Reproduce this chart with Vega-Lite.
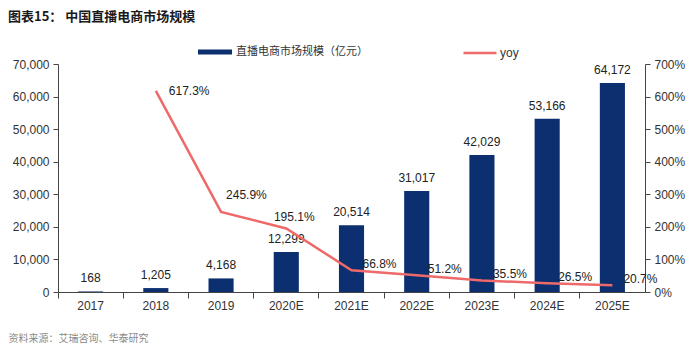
{
  "$schema": "https://vega.github.io/schema/vega-lite/v6.json",
  "autosize": {"type": "none"},
  "width": 587,
  "height": 228,
  "padding": {"left": 58, "right": 47, "top": 64, "bottom": 68},
  "background": "white",
  "title": {
    "text": "图表15：  中国直播电商市场规模",
    "anchor": "start",
    "frame": "group",
    "dx": -50,
    "offset": 11,
    "font": "Noto Sans CJK SC",
    "fontSize": 13,
    "fontWeight": "bold",
    "color": "#1a1a1a"
  },
  "config": {
    "view": {"stroke": null},
    "axis": {
      "labelFont": "Liberation Sans",
      "labelFontSize": 12,
      "labelColor": "#333333",
      "domainColor": "#444444",
      "tickColor": "#444444",
      "grid": false
    },
    "legend": {
      "labelFont": "Noto Sans CJK SC",
      "labelFontSize": 11,
      "labelColor": "#333333"
    }
  },
  "data": {
    "values": [
      {"year": "2017", "scale": 168, "yoy": null},
      {"year": "2018", "scale": 1205, "yoy": 6.173},
      {"year": "2019", "scale": 4168, "yoy": 2.459},
      {"year": "2020E", "scale": 12299, "yoy": 1.951},
      {"year": "2021E", "scale": 20514, "yoy": 0.668},
      {"year": "2022E", "scale": 31017, "yoy": 0.512},
      {"year": "2023E", "scale": 42029, "yoy": 0.355},
      {"year": "2024E", "scale": 53166, "yoy": 0.265},
      {"year": "2025E", "scale": 64172, "yoy": 0.207}
    ]
  },
  "encoding": {
    "x": {
      "field": "year",
      "type": "ordinal",
      "sort": null,
      "scale": {"paddingInner": 0, "paddingOuter": 0},
      "axis": {
        "labelAngle": 0,
        "bandPosition": 0,
        "tickSize": 6,
        "labelPadding": 2,
        "title": "资料来源：艾瑞咨询、华泰研究",
        "titleX": -50,
        "titleY": 46,
        "titleAlign": "left",
        "titleBaseline": "middle",
        "titleFont": "Noto Sans CJK SC",
        "titleFontSize": 10,
        "titleFontWeight": "normal",
        "titleColor": "#8a8a8a"
      }
    }
  },
  "layer": [
    {
      "encoding": {
        "y": {
          "field": "scale",
          "type": "quantitative",
          "scale": {"domain": [0, 70000]},
          "axis": {
            "title": null,
            "values": [0, 10000, 20000, 30000, 40000, 50000, 60000, 70000],
            "labelExpr": "format(datum.value, ',d')",
            "tickSize": 5,
            "labelPadding": 4
          }
        }
      },
      "layer": [
        {
          "mark": {"type": "bar", "width": {"band": 0.385}},
          "encoding": {
            "fill": {
              "datum": "直播电商市场规模（亿元）",
              "scale": {"range": ["#0c2f6f"]},
              "legend": {
                "title": null,
                "orient": "none",
                "legendX": 140,
                "legendY": -29,
                "symbolType": "M-1,-0.15H1V0.15H-1Z",
                "symbolSize": 1156,
                "symbolStrokeWidth": 0,
                "labelOffset": 4
              }
            }
          }
        },
        {
          "mark": {"type": "text", "baseline": "bottom", "dy": -6, "font": "Liberation Sans", "fontSize": 12, "color": "#222222"},
          "encoding": {
            "text": {"field": "scale", "type": "quantitative", "format": ","}
          }
        }
      ]
    },
    {
      "transform": [{"filter": "datum.yoy != null"}],
      "encoding": {
        "y": {
          "field": "yoy",
          "type": "quantitative",
          "scale": {"domain": [0, 7]},
          "axis": {
            "orient": "right",
            "title": null,
            "values": [0, 1, 2, 3, 4, 5, 6, 7],
            "format": ".0%",
            "tickSize": 5,
            "labelPadding": 4
          }
        },
        "text": {"field": "yoy", "type": "quantitative", "format": ".1%"}
      },
      "layer": [
        {
          "mark": {"type": "line", "strokeWidth": 2.5},
          "encoding": {
            "stroke": {
              "datum": "yoy",
              "scale": {"range": ["#ee6a6a"]},
              "legend": {
                "title": null,
                "orient": "none",
                "legendX": 404,
                "legendY": -29,
                "symbolType": "stroke",
                "symbolSize": 1089,
                "symbolStrokeWidth": 2.5,
                "labelOffset": 2,
                "labelFont": "Liberation Sans",
                "labelFontSize": 12
              }
            }
          }
        },
        {
          "transform": [{"filter": "datum.year == '2018'"}],
          "mark": {"type": "text", "align": "left", "baseline": "middle", "dx": 13, "dy": 0, "font": "Liberation Sans", "fontSize": 12, "color": "#222222"}
        },
        {
          "transform": [{"filter": "datum.year == '2019'"}],
          "mark": {"type": "text", "align": "left", "baseline": "middle", "dx": 5, "dy": -17, "font": "Liberation Sans", "fontSize": 12, "color": "#222222"}
        },
        {
          "transform": [{"filter": "datum.year == '2020E'"}],
          "mark": {"type": "text", "align": "center", "baseline": "middle", "dx": 8, "dy": -11, "font": "Liberation Sans", "fontSize": 12, "color": "#222222"}
        },
        {
          "transform": [{"filter": "datum.year != '2018' && datum.year != '2019' && datum.year != '2020E'"}],
          "mark": {"type": "text", "align": "left", "baseline": "middle", "dx": 11, "dy": -6, "font": "Liberation Sans", "fontSize": 12, "color": "#222222"}
        }
      ]
    }
  ],
  "resolve": {"scale": {"y": "independent"}}
}
